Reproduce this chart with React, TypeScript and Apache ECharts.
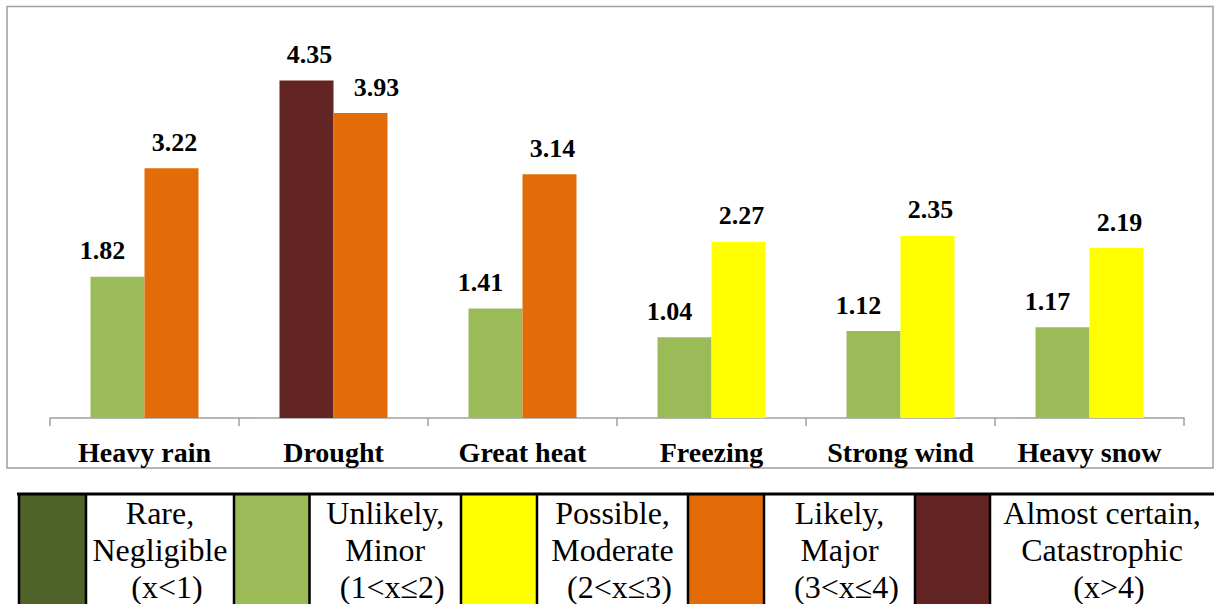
import React, { useEffect, useRef } from "react";
import * as echarts from "echarts";

// Hazard categories and their two scores
const categories = ["Heavy rain", "Drought", "Great heat", "Freezing", "Strong wind", "Heavy snow"];
const likelihoodScores = [1.82, 4.35, 1.41, 1.04, 1.12, 1.17];
const impactScores = [3.22, 3.93, 3.14, 2.27, 2.35, 2.19];

// Risk levels used for colouring bars and for the key table
const levelColors = ["#4F6228", "#9BBB59", "#FFFF00", "#E36C09", "#632523"];
const levelTitles = ["Rare,", "Unlikely,", "Possible,", "Likely,", "Almost certain,"];
const levelSubtitles = ["Negligible", "Minor", "Moderate", "Major", "Catastrophic"];
const levelRanges = ["(x<1)", "(1<x≤2)", "(2<x≤3)", "(3<x≤4)", "(x>4)"];
const levelUpperBounds = [1, 2, 3, 4, Infinity];

const SERIF = "Liberation Serif";

function levelOf(v: number): number {
  for (let i = 0; i < levelUpperBounds.length; i++) {
    if (i === 0 ? v < levelUpperBounds[i] : v <= levelUpperBounds[i]) return i;
  }
  return levelUpperBounds.length - 1;
}

// key table geometry: colour swatch + text cell per level
const keyEdges = [19, 86, 234, 309.5, 461, 537, 688, 764, 915, 990, 1216];
const keyTop = 494;

function buildKey(): any[] {
  const els: any[] = [];
  for (let i = 0; i < levelColors.length; i++) {
    const x0 = keyEdges[i * 2];
    const x1 = keyEdges[i * 2 + 1];
    const x2 = keyEdges[i * 2 + 2];
    els.push({
      type: "rect",
      shape: { x: x0, y: keyTop, width: x1 - x0, height: 620 - keyTop },
      style: { fill: levelColors[i] },
      silent: true,
    });
    const cx = (x1 + x2) / 2 + (i === 4 ? -1 : 0);
    const lines = [levelTitles[i], levelSubtitles[i], levelRanges[i]];
    lines.forEach((t, j) => {
      els.push({
        type: "text",
        x: cx + (j === 2 ? 7 : 0),
        y: 513 + j * 37,
        style: {
          text: t,
          fontFamily: SERIF,
          fontSize: 32,
          fill: "#000",
          align: "center",
          verticalAlign: "middle",
        },
        silent: true,
      });
    });
  }
  keyEdges.forEach((x) => {
    els.push({
      type: "line",
      shape: { x1: x, y1: keyTop, x2: x, y2: 620 },
      style: { stroke: "#000", lineWidth: 2.5 },
      silent: true,
    });
  });
  els.push({
    type: "line",
    shape: { x1: 17, y1: keyTop, x2: 1220, y2: keyTop },
    style: { stroke: "#000", lineWidth: 3 },
    silent: true,
  });
  return els;
}

function barData(values: number[], first: boolean) {
  return values.map((v, i) => {
    let dx = first ? -15 : 3;
    if (categories[i] === "Drought") dx = first ? 3 : 16;
    return {
      value: v,
      itemStyle: { color: levelColors[levelOf(v)] },
      label: { offset: [dx, 0] },
    };
  });
}

export default function App() {
  const ref = useRef<HTMLDivElement>(null);

  useEffect(() => {
    if (!ref.current) return;
    const chart = echarts.init(ref.current, null, { renderer: "svg" });
    const valueLabel = {
      show: true,
      position: "top",
      distance: 13,
      formatter: (p: any) => Number(p.value).toFixed(2),
      fontFamily: SERIF,
      fontWeight: "bold",
      fontSize: 26,
      color: "#000",
    };
    chart.setOption({
      animation: false,
      backgroundColor: "#fff",
      grid: { left: 50, right: 30, top: 30, bottom: 186 },
      xAxis: {
        type: "category",
        data: categories,
        axisLine: { lineStyle: { color: "#a0a0a0", width: 1.5 } },
        axisTick: { show: true, length: 8, lineStyle: { color: "#a0a0a0", width: 1.5 } },
        axisLabel: {
          margin: 20,
          fontFamily: SERIF,
          fontWeight: "bold",
          fontSize: 28,
          color: "#000",
          interval: 0,
        },
      },
      yAxis: { type: "value", min: 0, max: 5, show: false },
      series: [
        {
          type: "bar",
          data: barData(likelihoodScores, true),
          barWidth: 54,
          barGap: "0%",
          label: valueLabel,
        },
        {
          type: "bar",
          data: barData(impactScores, false),
          barWidth: 54,
          barGap: "0%",
          label: valueLabel,
        },
      ],
      graphic: [
        {
          type: "rect",
          shape: { x: 7, y: 6.5, width: 1206, height: 461.5 },
          style: { fill: "none", stroke: "#a0a0a0", lineWidth: 1.5 },
          silent: true,
        },
        ...buildKey(),
      ],
    });
    return () => chart.dispose();
  }, []);

  return (
    <div
      ref={ref}
      style={{ position: "absolute", left: 0, top: 0, width: 1214, height: 604, background: "#fff" }}
    />
  );
}
